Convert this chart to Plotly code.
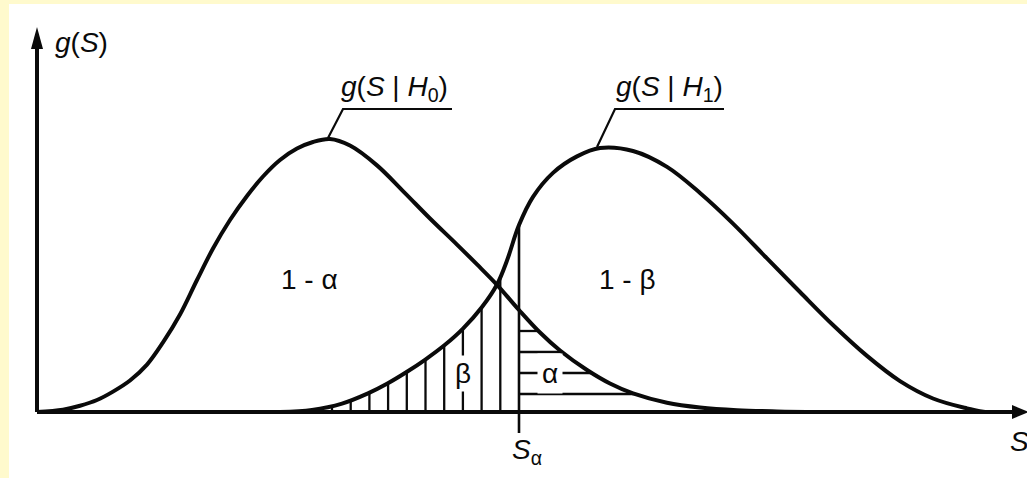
import numpy as np
import plotly.graph_objects as go

# Conditional densities of the test statistic S under H0 and H1
s_h0 = [0.00, 0.26, 0.43, 0.60, 0.76, 0.93, 1.10, 1.26, 1.43, 1.60, 1.76, 1.93,
        2.10, 2.26, 2.43, 2.60, 2.76, 2.93, 3.13, 3.40, 3.67, 3.93, 4.20, 4.40,
        4.60, 4.82, 5.03, 5.23, 5.50, 5.73, 5.96, 6.30, 6.63, 7.00, 7.40, 7.83]
g_h0 = [0.000, 0.008, 0.021, 0.040, 0.068, 0.105, 0.158, 0.232, 0.325, 0.440,
        0.545, 0.640, 0.720, 0.785, 0.840, 0.878, 0.900, 0.910, 0.888, 0.822,
        0.733, 0.645, 0.558, 0.492, 0.424, 0.340, 0.265, 0.205, 0.140, 0.095,
        0.062, 0.031, 0.015, 0.006, 0.002, 0.000]

s_h1 = [2.43, 2.75, 3.05, 3.31, 3.50, 3.70, 3.88, 4.08, 4.26, 4.45, 4.60, 4.70,
        4.82, 4.96, 5.16, 5.40, 5.63, 5.96, 6.30, 6.63, 6.96, 7.30, 7.63, 7.96,
        8.30, 8.63, 8.96, 9.30, 9.48]
g_h1 = [0.000, 0.007, 0.028, 0.062, 0.094, 0.134, 0.174, 0.224, 0.278, 0.350,
        0.425, 0.505, 0.623, 0.717, 0.797, 0.852, 0.880, 0.870, 0.817, 0.730,
        0.628, 0.512, 0.400, 0.290, 0.187, 0.103, 0.045, 0.012, 0.000]

# Critical value S_alpha
s_alpha = 4.82

# Text
label_axis_y = "<i>g</i>(<i>S</i>)"
label_axis_x = "<i>S</i>"
label_h0 = "<i>g</i>(<i>S</i> | <i>H</i><sub>0</sub>)"
label_h1 = "<i>g</i>(<i>S</i> | <i>H</i><sub>1</sub>)"
label_crit = "<i>S</i><sub>α</sub>"
label_keep = "1 - α"
label_power = "1 - β"
label_beta = "β"
label_alpha = "α"

# ---- styling / layout constants ----
INK = "#0a0a0a"
FONT = "Liberation Sans"
FS = 28
CURVE_W = 4.0
X_RANGE = [-0.37, 9.90]
Y_RANGE = [-0.22, 1.3733]
AXIS_S_END = 9.90
AXIS_G_TOP = 1.283
HATCH_DX = 0.187      # spacing of the vertical (beta) hatching
HATCH_G0 = 0.06       # first horizontal (alpha) hatch level
HATCH_DY = 0.07       # spacing of the horizontal hatching
TICK_LOW = -0.07

sh0 = np.array(s_h0); gh0 = np.array(g_h0)
sh1 = np.array(s_h1); gh1 = np.array(g_h1)
i_crit_h0 = int(np.argmin(np.abs(sh0 - s_alpha)))
i_crit_h1 = int(np.argmin(np.abs(sh1 - s_alpha)))

fig = go.Figure()

# beta region: vertical hatching under g(S|H1) left of S_alpha
beta_x = s_alpha - HATCH_DX * np.arange(1, 11)
beta_top = np.interp(beta_x, sh1, gh1)
vx, vy = [], []
for x, t in zip(beta_x, beta_top):
    if t > 0.004:
        vx += [x, x, None]
        vy += [0, t, None]
fig.add_trace(go.Scatter(x=vx, y=vy, mode="lines",
                         line=dict(color=INK, width=2.3), hoverinfo="skip"))

# alpha region: horizontal hatching under g(S|H0) right of S_alpha
tail = sh0 >= s_alpha
tail_s = sh0[tail][::-1]
tail_g = gh0[tail][::-1]
levels = HATCH_G0 + HATCH_DY * np.arange(0, 6)
levels = levels[levels < gh0[i_crit_h0] - 0.03]
ends = np.interp(levels, tail_g, tail_s)
hx, hy = [], []
for lv, e in zip(levels, ends):
    hx += [s_alpha, e, None]
    hy += [lv, lv, None]
fig.add_trace(go.Scatter(x=hx, y=hy, mode="lines",
                         line=dict(color=INK, width=2.3), hoverinfo="skip"))

# S_alpha marker line
fig.add_trace(go.Scatter(x=[s_alpha, s_alpha], y=[TICK_LOW, gh1[i_crit_h1]],
                         mode="lines", line=dict(color=INK, width=2.6),
                         hoverinfo="skip"))

# the two density curves
for s, g in ((s_h0, g_h0), (s_h1, g_h1)):
    fig.add_trace(go.Scatter(x=s, y=g, mode="lines",
                             line=dict(color=INK, width=CURVE_W, shape="spline",
                                       smoothing=1.0),
                             hoverinfo="skip"))

i_pk0 = int(np.argmax(gh0))
i_pk1 = int(np.argmax(gh1))

shapes = [
    # white drawing sheet
    dict(type="rect", xref="paper", yref="paper", x0=9 / 1027, x1=1,
         y0=0, y1=1 - 4 / 478, fillcolor="white", line=dict(width=0),
         layer="below"),
    # axes
    dict(type="line", xref="x", yref="y", x0=0, x1=AXIS_S_END - 0.1, y0=0, y1=0,
         line=dict(color=INK, width=CURVE_W)),
    dict(type="line", xref="x", yref="y", x0=0, x1=0, y0=0, y1=AXIS_G_TOP - 0.05,
         line=dict(color=INK, width=CURVE_W)),
    dict(type="path", xref="x", yref="y", xsizemode="pixel", ysizemode="pixel",
         xanchor=AXIS_S_END, yanchor=0, path="M2,0 L-15,7 L-15,-7 Z",
         fillcolor=INK, line=dict(width=0)),
    dict(type="path", xref="x", yref="y", xsizemode="pixel", ysizemode="pixel",
         xanchor=0, yanchor=AXIS_G_TOP, path="M0,0 L-6,-22 L6,-22 Z",
         fillcolor=INK, line=dict(width=0)),
    # leader lines with underlines for the curve names
    dict(type="path", xref="x", yref="y", xsizemode="pixel", ysizemode="pixel",
         xanchor=s_h0[i_pk0], yanchor=g_h0[i_pk0],
         path="M-2,1 L13,30 L122,30", line=dict(color=INK, width=2.2)),
    dict(type="path", xref="x", yref="y", xsizemode="pixel", ysizemode="pixel",
         xanchor=s_h1[i_pk1], yanchor=g_h1[i_pk1],
         path="M-3,1 L15,39 L124,39", line=dict(color=INK, width=2.2)),
]

font = dict(family=FONT, size=FS, color=INK)
annotations = [
    dict(x=0.16, y=1.233, text=label_axis_y, xanchor="left", yanchor="middle"),
    dict(x=s_h0[i_pk0], y=g_h0[i_pk0], text=label_h0, xanchor="left",
         yanchor="bottom", xshift=9, yshift=31),
    dict(x=s_h1[i_pk1], y=g_h1[i_pk1], text=label_h1, xanchor="left",
         yanchor="bottom", xshift=14, yshift=40),
    dict(x=2.72, y=0.443, text=label_keep, xanchor="center", yanchor="middle"),
    dict(x=5.90, y=0.443, text=label_power, xanchor="center", yanchor="middle"),
    dict(x=beta_x[2], y=0.127, text=label_beta, xanchor="center",
         yanchor="middle", bgcolor="white", borderpad=2),
    dict(x=5.13, y=levels[1], text=label_alpha, xanchor="center",
         yanchor="middle", bgcolor="white", borderpad=4),
    dict(x=s_alpha, y=-0.067, text=label_crit, xanchor="left", yanchor="top",
         xshift=-9),
    dict(x=9.71, y=-0.04, text=label_axis_x, xanchor="left", yanchor="top"),
]
for a in annotations:
    a.update(xref="x", yref="y", showarrow=False, font=font)

fig.update_layout(
    width=1027, height=478,
    margin=dict(l=0, r=0, t=0, b=0),
    paper_bgcolor="#FFFACD",
    plot_bgcolor="rgba(0,0,0,0)",
    showlegend=False,
    xaxis=dict(range=X_RANGE, visible=False, fixedrange=True),
    yaxis=dict(range=Y_RANGE, visible=False, fixedrange=True),
    shapes=shapes,
    annotations=annotations,
)

fig.write_html("out.html")
